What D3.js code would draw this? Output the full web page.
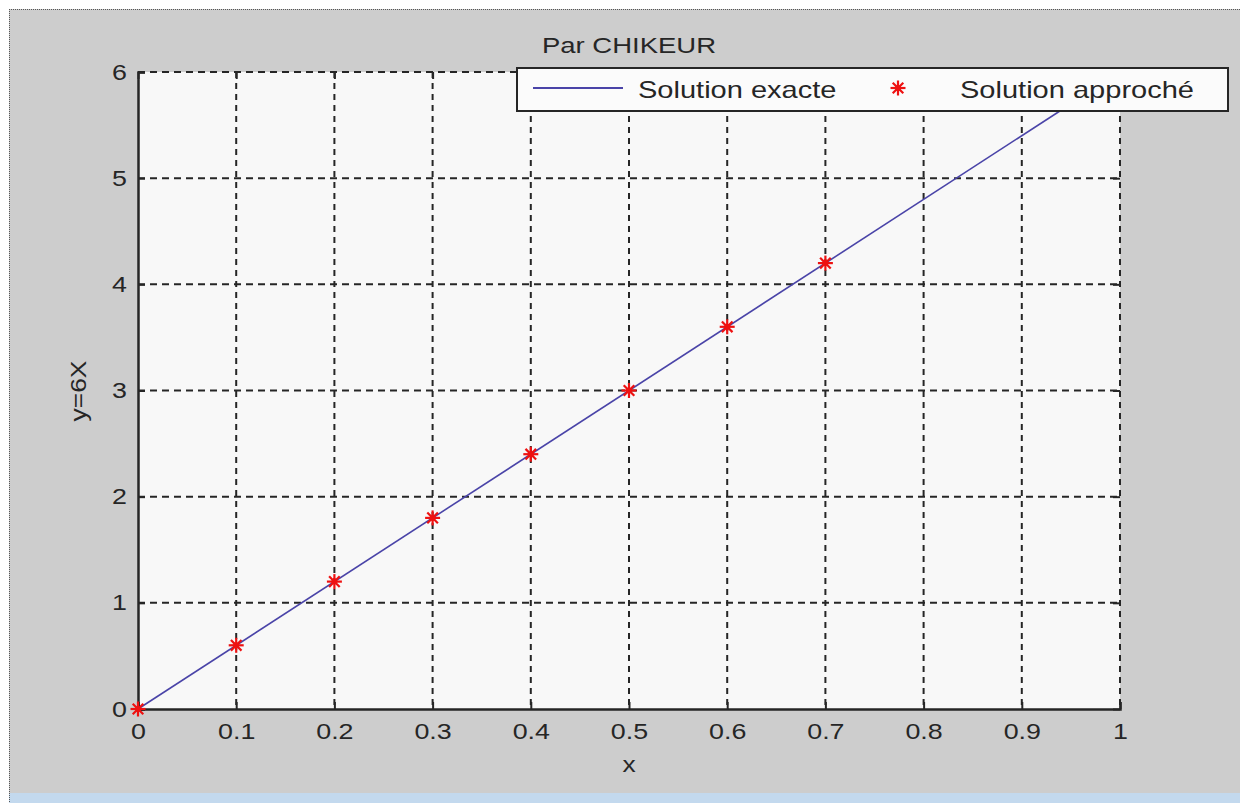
<!DOCTYPE html>
<html><head><meta charset="utf-8">
<script src="https://cdn.jsdelivr.net/npm/d3@7"></script>
<style>html,body{margin:0;padding:0;background:#fff;}svg{display:block;}</style>
</head><body>
<svg id="c" width="1240" height="803"></svg>
<script>
const xTicks = [0,0.1,0.2,0.3,0.4,0.5,0.6,0.7,0.8,0.9,1];
const yTicks = [0,1,2,3,4,5,6];
const exactX = [0,1];
const exactY = [0,6];
const approxX = [0,0.1,0.2,0.3,0.4,0.5,0.6,0.7];
const approxY = [0,0.6,1.2,1.8,2.4,3.0,3.6,4.2];
const title = "Par CHIKEUR";
const xLabel = "x";
const yLabel = "y=6X";
const legendLabels = ["Solution exacte","Solution approché"];

const svg = d3.select("#c");
const font = "'Liberation Sans', Arial, sans-serif";
const ink = "#262626";
const SX = 1.22;
// figure background
svg.append("rect").attr("x",0).attr("y",0).attr("width",1240).attr("height",803).attr("fill","#fff");
svg.append("rect").attr("x",9).attr("y",9).attr("width",1231).attr("height",794).attr("fill","#cdcdcd");
svg.append("rect").attr("x",9).attr("y",793).attr("width",1231).attr("height",10).attr("fill","#c3d9ee");
svg.append("line").attr("x1",9).attr("y1",9.5).attr("x2",1240).attr("y2",9.5).attr("stroke","#555").attr("stroke-dasharray","1,1");
svg.append("line").attr("x1",9.5).attr("y1",9).attr("x2",9.5).attr("y2",803).attr("stroke","#555").attr("stroke-dasharray","1,1");

const L=138, R=1120, T=72, B=709;
const x = d3.scaleLinear().domain([0,1]).range([L,R]);
const y = d3.scaleLinear().domain([0,6]).range([B,T]);

svg.append("rect").attr("x",L).attr("y",T).attr("width",R-L).attr("height",B-T).attr("fill","#f8f8f8");

// grid
const g = svg.append("g");
g.selectAll(".gx").data(xTicks.slice(1)).enter().append("line")
  .attr("x1",d=>x(d)).attr("x2",d=>x(d)).attr("y1",T).attr("y2",B)
  .attr("stroke",ink).attr("stroke-width",2).attr("stroke-dasharray","6,5");
g.selectAll(".gy").data(yTicks.slice(1)).enter().append("line")
  .attr("x1",L).attr("x2",R).attr("y1",d=>y(d)).attr("y2",d=>y(d))
  .attr("stroke",ink).attr("stroke-width",2).attr("stroke-dasharray","7,5");

// axes (ticks inside)
const xAxis = svg.append("g").attr("transform",`translate(0,${B})`)
  .call(d3.axisBottom(x).tickValues(xTicks).tickSize(-7).tickFormat(d=>d===0?"0":d===1?"1":d3.format(".1f")(d)));
const yAxis = svg.append("g").attr("transform",`translate(${L},0)`)
  .call(d3.axisLeft(y).tickValues(yTicks).tickSize(-7).tickFormat(d3.format("d")));
svg.append("g").attr("transform",`translate(${R},0)`)
  .call(d3.axisRight(y).tickValues(yTicks).tickSize(-7).tickFormat(""))
  .call(a=>{a.select(".domain").remove(); a.selectAll("line").attr("stroke",ink).attr("stroke-width",2);});
svg.append("g").attr("transform",`translate(0,${T})`)
  .call(d3.axisTop(x).tickValues(xTicks).tickSize(-7).tickFormat(""))
  .call(a=>{a.select(".domain").remove(); a.selectAll("line").attr("stroke",ink).attr("stroke-width",2);});
[xAxis,yAxis].forEach(a=>{
  a.select(".domain").attr("stroke",ink).attr("stroke-width",2.5);
  a.selectAll(".tick line").attr("stroke",ink).attr("stroke-width",2);
  a.selectAll("text").attr("font-family",font).attr("font-size",22).attr("fill",ink);
});
xAxis.selectAll("text").attr("y",30).attr("dy",0).attr("transform",`scale(${SX},1)`);
yAxis.selectAll("text").attr("x",-11/SX).attr("transform",`scale(${SX},1)`);

// exact line
svg.append("path").datum(exactX.map((d,i)=>[d,exactY[i]]))
  .attr("d",d3.line().x(d=>x(d[0])).y(d=>y(d[1])))
  .attr("fill","none").attr("stroke","#4a44a8").attr("stroke-width",1.6);

// asterisk markers
function star(sel, cx, cy, r){
  const gg = sel.append("g").attr("transform",`translate(${cx},${cy})`);
  [0,45,90,135].forEach(a=>{
    const rad=a*Math.PI/180;
    gg.append("line").attr("x1",-r*Math.cos(rad)).attr("y1",-r*Math.sin(rad))
      .attr("x2",r*Math.cos(rad)).attr("y2",r*Math.sin(rad))
      .attr("stroke","#ee1111").attr("stroke-width",2.2);
  });
  gg.append("circle").attr("r",3).attr("fill","#ee1111");
}
approxX.forEach((d,i)=>star(svg, x(d), y(approxY[i]), 7.5));

function stext(px, py, txt, size, anchor, sx){
  svg.append("g").attr("transform",`translate(${px},${py}) scale(${sx},1)`)
    .append("text").attr("text-anchor",anchor).text(txt)
    .attr("font-family",font).attr("font-size",size).attr("fill",ink);
}

// legend
svg.append("rect").attr("x",517).attr("y",68).attr("width",711).attr("height",43)
  .attr("fill","#fbfbfb").attr("stroke",ink).attr("stroke-width",2);
svg.append("line").attr("x1",533).attr("x2",623).attr("y1",88).attr("y2",88).attr("stroke","#4a44a8").attr("stroke-width",2);
stext(638, 98, legendLabels[0], 24, "start", 1.21);
star(svg, 898, 88, 7.5);
stext(960, 98, legendLabels[1], 24, "start", 1.21);

// titles
stext(629, 53, title, 22, "middle", 1.25);
stext(629, 772, xLabel, 22, "middle", 1.2);
svg.append("g").attr("transform","translate(86,391) rotate(-90) scale(1.2,1)")
  .append("text").attr("text-anchor","middle").text(yLabel)
  .attr("font-family",font).attr("font-size",22).attr("fill",ink);
</script>
</body></html>
